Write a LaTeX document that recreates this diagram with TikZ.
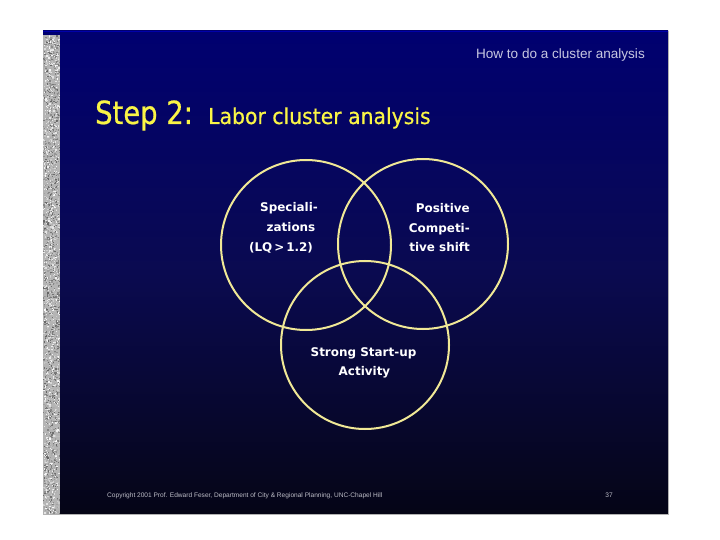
\documentclass[tikz,border=0pt]{standalone}
\usepackage{fontspec}
\setmainfont{DejaVu Sans}
\newfontfamily\titlefont[FakeStretch=0.86,FakeBold=0.6]{DejaVu Sans}
\newfontfamily\subfont[FakeStretch=0.93,FakeBold=0.5]{DejaVu Sans}
\newfontfamily\hdfont{Liberation Sans}
\newfontfamily\circfont{DejaVu Sans}
\definecolor{navytop}{RGB}{0,0,112}
\definecolor{navymid}{RGB}{10,10,80}
\definecolor{navybot}{RGB}{5,5,22}
\definecolor{ringcol}{RGB}{240,232,150}
\definecolor{titlecol}{RGB}{250,245,70}
\definecolor{hdcol}{RGB}{200,200,225}
\definecolor{ftcol}{RGB}{190,190,200}
\definecolor{stripcol}{RGB}{180,180,180}
\begin{document}
\begin{tikzpicture}[x=1bp,y=-1bp,
  ring/.style={draw=ringcol,line width=2bp},
  circtext/.style={font=\circfont\bfseries\fontsize{12}{14}\selectfont,text=white,inner sep=0pt},
]
\useasboundingbox (0,0) rectangle (720,540);
\fill[white] (0,0) rectangle (720,540);
% slide background
\shade[top color=navytop,bottom color=navybot,middle color=navymid] (43,31) rectangle (668,514);
\draw[line width=1bp,color=gray!60] (668,31) -- (668,514) -- (43,514);
\draw[line width=0.8bp,color=blue!40!navytop] (43,31.4) -- (668,31.4);
% textured strip
\fill[stripcol] (43,35) rectangle (60,514);
\pgfmathsetseed{7}
\foreach \i in {1,...,2600}{
  \pgfmathsetmacro{\xx}{43+16*rnd}
  \pgfmathsetmacro{\yy}{35+478*rnd}
  \pgfmathsetmacro{\gg}{int(100+150*rnd)}
  \definecolor{dotc}{RGB}{\gg,\gg,\gg}
  \fill[dotc] (\xx,\yy) rectangle ++(1.3,1.3);
}
% header
\node[font=\hdfont\fontsize{13.6}{16}\selectfont,text=hdcol,inner sep=0pt,anchor=base east] (hdr) at (645,59) {How to do a cluster analysis};
% title
\node[font=\titlefont\fontsize{32}{36}\selectfont,text=titlecol,inner sep=0pt,anchor=base west] (step) at (95,124) {Step 2:};
\node[font=\subfont\fontsize{22}{26}\selectfont,text=titlecol,inner sep=0pt,anchor=base west] (sub) at (208,124) {Labor cluster analysis};
% circles
\node[ring,circle,minimum size=170bp,inner sep=0pt] (cL) at (306,245) {};
\node[ring,circle,minimum size=170bp,inner sep=0pt] (cR) at (423,244) {};
\node[ring,circle,minimum size=168bp,inner sep=0pt] (cB) at (365,345) {};
% left text
\node[circtext,anchor=base] (l1) at (289,211.7) {Speciali-};
\node[circtext,anchor=base] (l2) at (291,231.7) {zations};
\node[circtext,anchor=base] (l3) at (281,251.5) {(LQ\,>\,1.2)};
% right text
\node[circtext,anchor=base east] (r1) at (470,212.5) {Positive};
\node[circtext,anchor=base east] (r2) at (470,232.5) {Competi-};
\node[circtext,anchor=base east] (r3) at (470,252) {tive shift};
% bottom text
\node[circtext,anchor=base] (b1) at (363.5,356.5) {Strong Start-up};
\node[circtext,anchor=base] (b2) at (364.5,375.5) {Activity};
% footer
\node[font=\hdfont\fontsize{6.6}{8}\selectfont,text=ftcol,inner sep=0pt,anchor=base west] (ft) at (107,497) {Copyright 2001 Prof. Edward Feser, Department of City \& Regional Planning, UNC-Chapel Hill};
\node[font=\hdfont\fontsize{6.6}{8}\selectfont,text=ftcol,inner sep=0pt,anchor=base east] (pg) at (613,497) {37};
\end{tikzpicture}
\end{document}
